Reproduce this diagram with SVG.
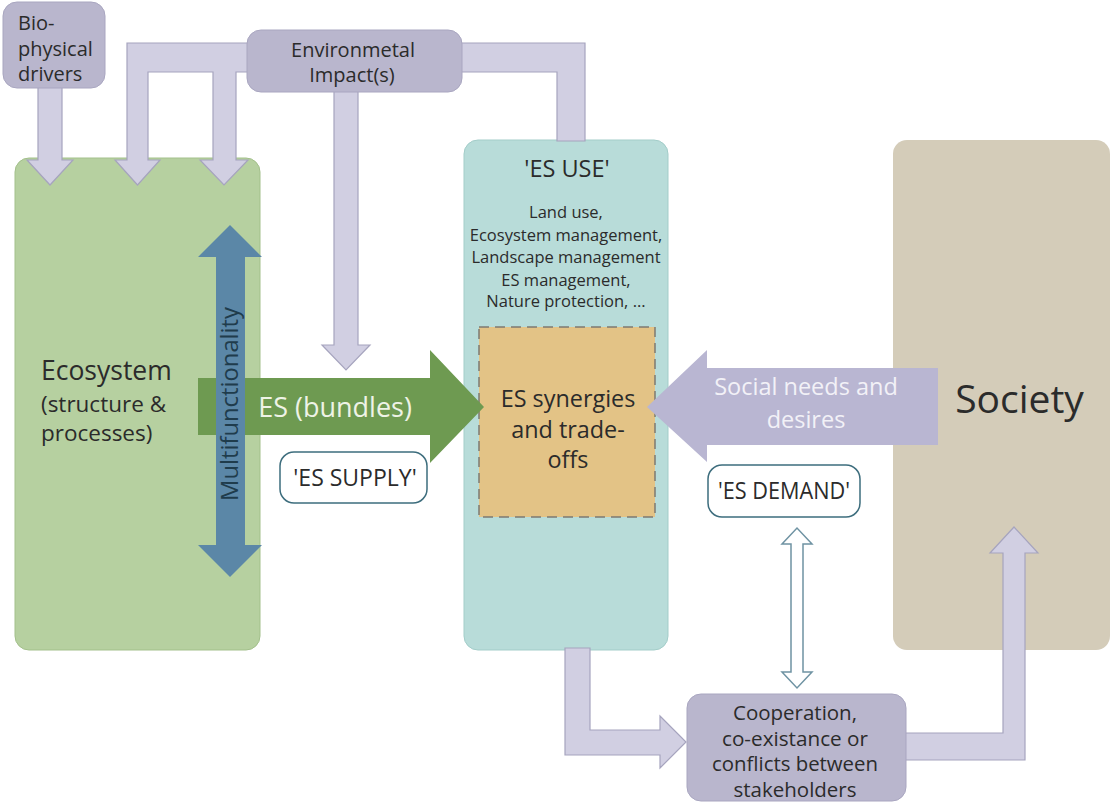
<svg xmlns="http://www.w3.org/2000/svg" width="1112" height="803" viewBox="0 0 1112 803">
<style>
text{font-family:"Open Sans","Liberation Sans",sans-serif;fill:#2b2b2b;}
.lav{fill:#b9b6cd;stroke:#a9a6c0;stroke-width:1;}
.arr{fill:#d1cfe2;stroke:#a6a4be;stroke-width:1.2;}
.lbl{fill:#fff;stroke:#3d6d7d;stroke-width:1.5;}
.c{text-anchor:middle;}
</style>
<rect width="1112" height="803" fill="#fff"/>
<g id="ecosystem">
<rect x="15" y="158" width="245" height="492" rx="14" fill="#b6d0a0" stroke="#a3c08b" stroke-width="1"/>
<text x="41" y="380" font-size="26.5">Ecosystem</text>
<text x="41" y="412" font-size="22.5">(structure &amp;</text>
<text x="41" y="441" font-size="22.5">processes)</text>
</g>
<g id="es-use">
<rect x="464" y="140" width="204" height="510" rx="14" fill="#b8dcd9" stroke="#a3cdc9" stroke-width="1"/>
<text class="c" x="567" y="177" font-size="23.5">'ES USE'</text>
<text class="c" x="566" y="218" font-size="16.5">Land use,</text>
<text class="c" x="566" y="240.5" font-size="16.5">Ecosystem management,</text>
<text class="c" x="566" y="263" font-size="16.5">Landscape management</text>
<text class="c" x="566" y="285.5" font-size="16.5">ES management,</text>
<text class="c" x="566" y="307" font-size="16.5">Nature protection, ...</text>
</g>
<g id="society">
<rect x="893" y="140" width="217" height="510" rx="14" fill="#d4ccb9"/>
<text class="c" x="1019.5" y="413" font-size="39">Society</text>
</g>
<g id="synergies">
<rect x="479" y="327" width="176" height="190" fill="#e3c386" stroke="#7d7a72" stroke-width="1.5" stroke-dasharray="10,6"/>
</g>
<g id="connectors">
<path class="arr" d="M127,43 L250,43 L250,72 L236,72 L236,160 L248,160 L224,185 L200,160 L213,160 L213,72 L148,72 L148,160 L160,160 L137.5,185 L115,160 L127,160 Z"/>
<path class="arr" d="M38,80 L62,80 L62,160 L73,160 L50,185 L27,160 L38,160 Z"/>
<path class="arr" d="M458,43 L585,43 L585,141 L557,141 L557,72 L458,72 Z"/>
<path class="arr" d="M334,88 L358,88 L358,345 L370,345 L346,370 L322,345 L334,345 Z"/>
<path d="M198,378 L430,378 L430,350 L484,407 L430,463 L430,435 L198,435 Z" fill="#6e9a51"/>
<path d="M216,257 L198,257 L230,225 L262,257 L245,257 L245,545 L262,545 L230,577 L198,545 L216,545 Z" fill="#5b87a7"/>
<path d="M938,368 L707,368 L707,350 L647,407 L707,462 L707,445 L938,445 Z" fill="#b9b6d2"/>
<path class="arr" d="M565,648 L590,648 L590,730 L660,730 L660,716 L686,742 L660,768 L660,755 L565,755 Z"/>
<path class="arr" d="M902,733 L1003,733 L1003,553 L990,553 L1014,527 L1038,553 L1025,553 L1025,760 L902,760 Z"/>
<path d="M791,544 L782,544 L797,528 L812,544 L803,544 L803,672 L812,672 L797,688 L782,672 L791,672 Z" fill="#fff" stroke="#6f93a3" stroke-width="1.5"/>
</g>
<g id="labels-on-arrows">
<text class="c" x="335" y="417" font-size="27" style="fill:#eef3e6">ES (bundles)</text>
<text class="c" x="238" y="404" font-size="23" textLength="194" lengthAdjust="spacingAndGlyphs" transform="rotate(-90 238 404)" style="fill:#1f3c4c">Multifunctionality</text>
<text class="c" x="806" y="395" font-size="23.5" style="fill:#f2f1f7">Social needs and</text>
<text class="c" x="806" y="428" font-size="23.5" style="fill:#f2f1f7">desires</text>
</g>
<g id="synergies-text">
<text class="c" x="568" y="407" font-size="23.4">ES synergies</text>
<text class="c" x="568" y="438" font-size="23.4">and trade-</text>
<text class="c" x="568" y="468" font-size="23.4">offs</text>
</g>
<g id="bio-drivers">
<rect class="lav" x="3" y="2" width="102" height="86" rx="14"/>
<text x="18" y="30" font-size="20">Bio-</text>
<text x="18" y="56" font-size="20">physical</text>
<text x="18" y="81" font-size="20">drivers</text>
</g>
<g id="env-impact">
<rect class="lav" x="247" y="30" width="215" height="62" rx="14"/>
<text class="c" x="353" y="57" font-size="20">Environmetal</text>
<text class="c" x="352" y="82" font-size="20">Impact(s)</text>
</g>
<g id="es-supply">
<rect class="lbl" x="280" y="452" width="147" height="51" rx="14"/>
<text class="c" x="355" y="486" font-size="23">'ES SUPPLY'</text>
</g>
<g id="es-demand">
<rect class="lbl" x="708" y="465" width="152" height="52" rx="14"/>
<text class="c" x="784" y="499" font-size="23" textLength="132" lengthAdjust="spacingAndGlyphs">'ES DEMAND'</text>
</g>
<g id="cooperation">
<rect class="lav" x="687" y="694" width="219" height="107" rx="14"/>
<text class="c" x="795" y="720" font-size="20" textLength="124" lengthAdjust="spacingAndGlyphs">Cooperation,</text>
<text class="c" x="795" y="745.7" font-size="20" textLength="146" lengthAdjust="spacingAndGlyphs">co-existance or</text>
<text class="c" x="795" y="771.3" font-size="20" textLength="166" lengthAdjust="spacingAndGlyphs">conflicts between</text>
<text class="c" x="795" y="797" font-size="20" textLength="123" lengthAdjust="spacingAndGlyphs">stakeholders</text>
</g>
</svg>
